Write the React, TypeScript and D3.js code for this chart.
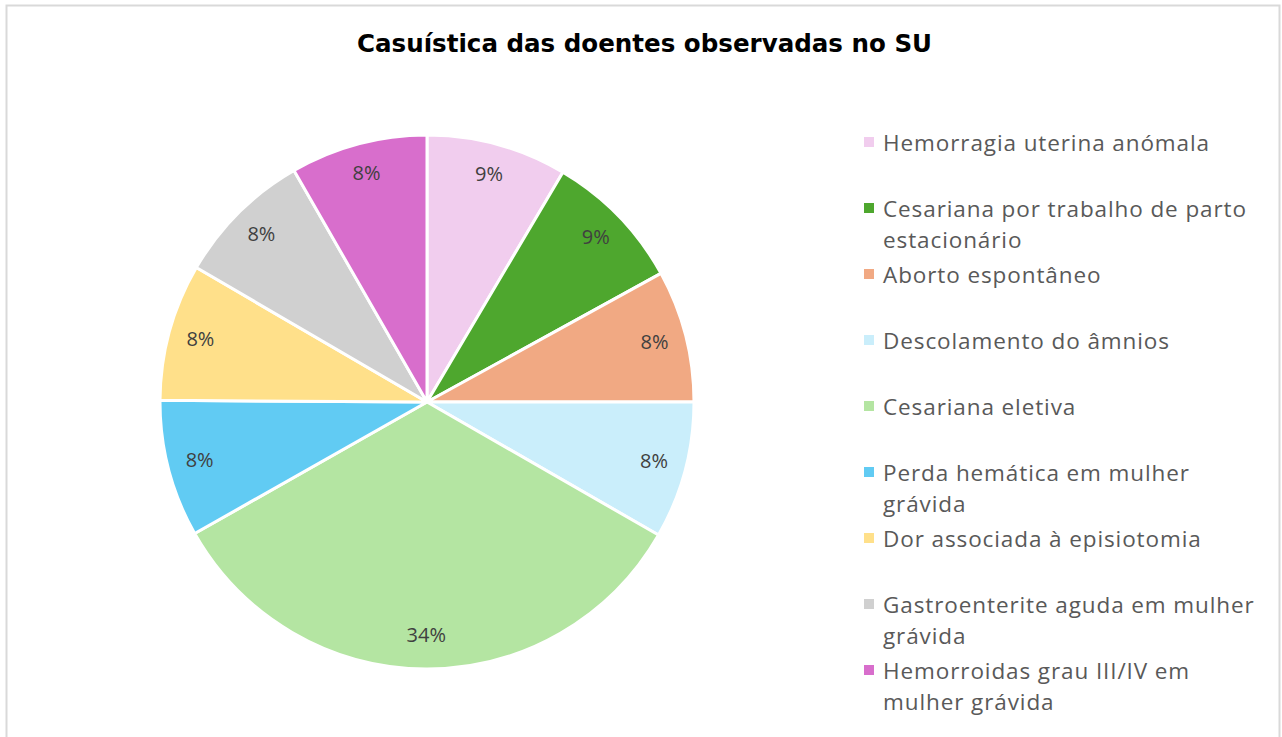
import React from "react";
import * as d3 from "d3";

const categories: string[][] = [
  ["Hemorragia uterina anómala"],
  ["Cesariana por trabalho de parto", "estacionário"],
  ["Aborto espontâneo"],
  ["Descolamento do âmnios"],
  ["Cesariana eletiva"],
  ["Perda hemática em mulher", "grávida"],
  ["Dor associada à episiotomia"],
  ["Gastroenterite aguda em mulher", "grávida"],
  ["Hemorroidas grau III/IV em", "mulher grávida"],
];
const values: number[] = [8.5, 8.5, 8.0, 8.3, 33.5, 8.3, 8.3, 8.3, 8.3];
const colors: string[] = [
  "#F1CDEE",
  "#4EA72E",
  "#F1A983",
  "#CAEEFB",
  "#B4E5A2",
  "#61CBF3",
  "#FFE08A",
  "#D0D0D0",
  "#D86ECC",
];
const title = "Casuística das doentes observadas no SU";

export default function App() {
  const W = 1282;
  const H = 737;
  const cx = 427;
  const cy = 402;
  const R = 267;
  const total = d3.sum(values);
  const pie = d3.pie<number>().sort(null).value((d) => d);
  const arcs = pie(values);
  const arc = d3.arc<d3.PieArcDatum<number>>().innerRadius(0).outerRadius(R);
  const labelArc = d3
    .arc<d3.PieArcDatum<number>>()
    .innerRadius(R * 0.88)
    .outerRadius(R * 0.88);
  const fmt = (v: number) => Math.round((v / total) * 100) + "%";

  const legendX = 864;
  const legendY0 = 142;
  const legendStep = 66;
  const lineH = 31;

  return (
    <svg
      width={W}
      height={H}
      style={{ position: "absolute", left: 0, top: 0 }}
    >
      <rect x={0} y={0} width={W} height={H} fill="#fff" />
      <rect
        x={6.5}
        y={5.5}
        width={1273}
        height={740}
        fill="#fff"
        stroke="#D9D9D9"
        strokeWidth={2}
      />
      <text
        x={644.5}
        y={44}
        textAnchor="middle"
        dominantBaseline="central"
        fontFamily="DejaVu Sans, sans-serif"
        fontWeight={700}
        fontSize={24}
        textLength={575}
        lengthAdjust="spacingAndGlyphs"
        fill="#000"
      >
        {title}
      </text>
      <g transform={`translate(${cx},${cy})`}>
        {arcs.map((a, i) => (
          <path
            key={i}
            d={arc(a) || ""}
            fill={colors[i]}
            stroke="#fff"
            strokeWidth={3}
            strokeLinejoin="round"
          />
        ))}
        {arcs.map((a, i) => {
          const [x, y] = labelArc.centroid(a);
          return (
            <text
              key={"l" + i}
              x={x}
              y={y - 2}
              textAnchor="middle"
              dominantBaseline="central"
              fontFamily="Open Sans, sans-serif"
              fontSize={20}
              fill="#404040"
            >
              {fmt(values[i])}
            </text>
          );
        })}
      </g>
      <g>
        {categories.map((lines, i) => {
          const y = legendY0 + i * legendStep;
          return (
            <g key={"lg" + i}>
              <rect
                x={legendX}
                y={y - 5}
                width={10}
                height={10}
                fill={colors[i]}
              />
              {lines.map((ln, j) => (
                <text
                  key={j}
                  x={legendX + 19}
                  y={y + j * lineH}
                  dominantBaseline="central"
                  fontFamily="Open Sans, sans-serif"
                  fontSize={22.5}
                  letterSpacing={0.9}
                  fill="#595959"
                >
                  {ln}
                </text>
              ))}
            </g>
          );
        })}
      </g>
    </svg>
  );
}
